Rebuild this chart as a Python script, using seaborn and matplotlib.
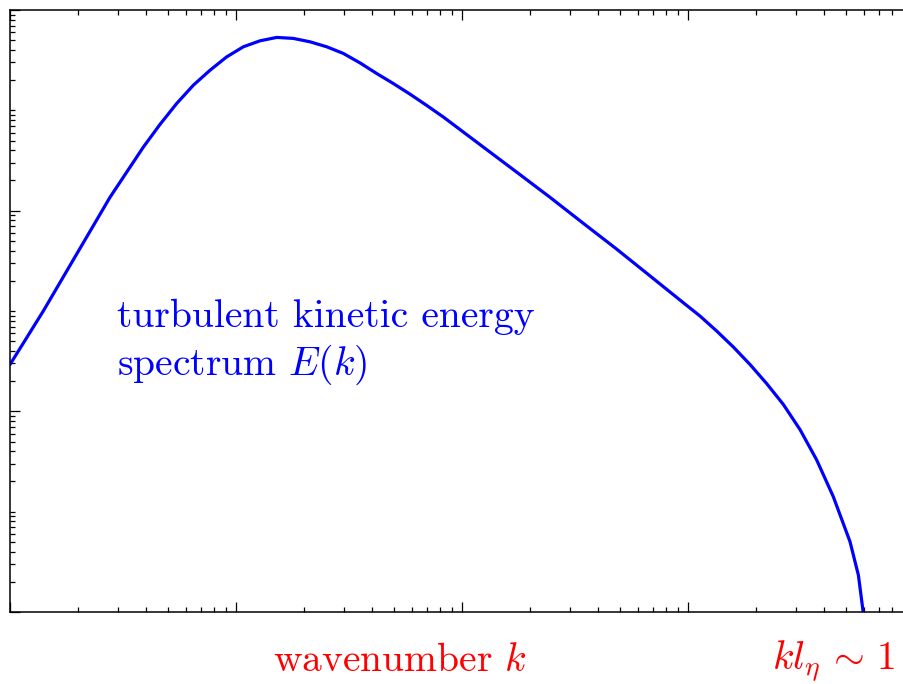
import matplotlib
matplotlib.use("Agg")
import matplotlib.pyplot as plt
import matplotlib.ticker as mticker
import pandas as pd
import seaborn as sns

# data (log-log)
wavenumber = [1, 1.185, 1.404, 1.664, 1.972, 2.337, 2.770, 3.283, 3.890, 4.610,
              5.464, 6.475, 7.674, 9.094, 10.78, 12.77, 15.14, 17.94, 21.25,
              25.19, 29.85, 35.37, 41.91, 49.67, 58.88, 69.77, 82.67,
              124.3, 174.6, 245.0, 344.4, 483.3, 678.6, 953, 1130, 1340, 1588,
              1881, 2229, 2642, 3133, 3707, 4395, 5212, 5675, 5971]
energy = [2.93e-4, 5.41e-4, 1.0e-3, 1.92e-3, 3.69e-3, 7.08e-3, 1.36e-2, 2.42e-2,
          4.30e-2, 7.24e-2, 0.117, 0.178, 0.251, 0.341, 0.430, 0.493, 0.533,
          0.521, 0.482, 0.430, 0.369, 0.297, 0.233, 0.185, 0.145, 0.112, 0.0858,
          0.0430, 0.0242, 0.0136, 7.47e-3, 4.14e-3, 2.24e-3, 1.21e-3,
          8.91e-4, 6.31e-4, 4.37e-4, 2.93e-4, 1.89e-4, 1.17e-4, 6.56e-5,
          3.29e-5, 1.41e-5, 5.01e-6, 2.33e-6, 9.62e-7]

x_major = [1, 10, 100, 1000, 10000]
y_major = [1e-6, 1e-4, 1e-2, 1]

sns.set_style("ticks")
plt.rcParams["font.family"] = ["serif"]
plt.rcParams["font.serif"] = ["cmr10", "DejaVu Serif"]
plt.rcParams["mathtext.fontset"] = "cm"
plt.rcParams["axes.unicode_minus"] = False
plt.rcParams["axes.formatter.use_mathtext"] = True

df = pd.DataFrame({"k": wavenumber, "E": energy})

fig = plt.figure(figsize=(9.04, 6.84), dpi=100)
ax = fig.add_axes([10 / 904, 72 / 684, 904 / 904, 602 / 684])
sns.lineplot(data=df, x="k", y="E", ax=ax, color="blue", lw=2.3, sort=False)
ax.set_xscale("log")
ax.set_yscale("log")
ax.set_xlim(1, 1e4)
ax.set_ylim(1e-6, 1)

ax.xaxis.set_major_locator(mticker.FixedLocator(x_major))
x_minor = [m * 10 ** e for e in range(0, 4) for m in range(2, 10)]
ax.xaxis.set_minor_locator(mticker.FixedLocator(x_minor))
ax.yaxis.set_major_locator(mticker.FixedLocator(y_major))
y_minor = [m * 10.0 ** e for e in range(-6, 0) for m in range(1, 10)
           if not (m == 1 and e % 2 == 0)]
ax.yaxis.set_minor_locator(mticker.FixedLocator(y_minor))
for axis in (ax.xaxis, ax.yaxis):
    axis.set_major_formatter(mticker.NullFormatter())
    axis.set_minor_formatter(mticker.NullFormatter())
ax.tick_params(which="both", direction="in", top=True, right=True,
               color="black", width=0.9)
ax.tick_params(which="major", length=7.2)
ax.tick_params(which="minor", length=3.6)
for s in ax.spines.values():
    s.set_linewidth(1.1)
    s.set_color("black")
ax.set_xlabel("")
ax.set_ylabel("")

fs = 28.5
fig.text(117 / 904, 1 - 375 / 684, "turbulent kinetic energy\nspectrum $E(k)$",
         color="blue", fontsize=fs, ha="left", va="baseline", linespacing=1.25)

fig.text(400 / 904, 1 - 671 / 684, "wavenumber $k$", color="red", fontsize=fs,
         ha="center", va="baseline")
fig.text(896 / 904, 1 - 669 / 684, r"$kl_\eta\,\sim\,1$", color="red", fontsize=fs,
         ha="right", va="baseline")

fig.savefig("out.png", dpi=100)
